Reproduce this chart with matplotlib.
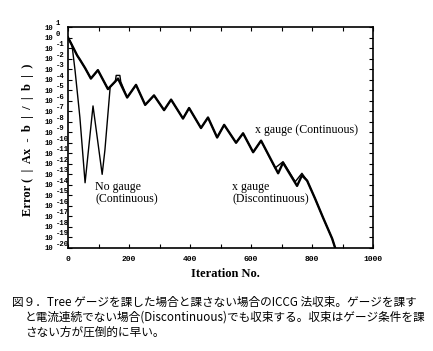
import numpy as np
import matplotlib
matplotlib.use("Agg")
import matplotlib.pyplot as plt
import matplotlib.transforms as mtransforms
from matplotlib.ticker import FixedLocator, NullLocator, NullFormatter

# ---- data (exponents of the error) ----
cont_iter = [0, 16, 30, 39, 56, 75, 98, 131, 164, 194, 223, 253, 282, 315, 338, 377,
             397, 436, 459, 489, 512, 551, 574, 607, 633, 689, 705, 751, 767, 784,
             810, 836, 866, 876]
cont_exp = [0, -0.9, -1.7, -2.1, -2.9, -3.9, -3.1, -4.9, -3.9, -5.7, -4.5, -6.4, -5.5,
            -6.9, -5.9, -7.7, -6.7, -8.6, -7.6, -9.5, -8.3, -10.0, -9.1, -10.9, -9.8,
            -12.9, -11.9, -14.1, -13.1, -13.6, -15.3, -17.1, -19.1, -20.0]

disc_iter = [0, 16, 30, 39, 56, 75, 98, 131, 155, 158, 170, 173, 194, 223, 253, 282,
             315, 338, 377, 397, 436, 459, 489, 512, 551, 574, 607, 633, 679, 705,
             745, 767, 784, 810, 836, 866, 876]
disc_exp = [0, -0.9, -1.7, -2.1, -2.9, -3.9, -3.1, -4.9, -4.2, -3.6, -3.6, -4.2, -5.7,
            -4.5, -6.4, -5.5, -6.9, -5.9, -7.7, -6.7, -8.6, -7.6, -9.5, -8.3, -10.0,
            -9.1, -10.9, -9.8, -12.4, -11.8, -13.7, -12.9, -13.6, -15.3, -17.1, -19.1,
            -20.0]

nogauge_iter = [0, 13, 23, 33, 39, 56, 82, 112, 121, 138]
nogauge_exp = [0, -0.7, -3.1, -5.9, -7.6, -13.8, -6.5, -13.0, -10.7, -4.8]

x_ticks = [0, 200, 400, 600, 800, 1000]
y_exps = list(range(1, -21, -1))

caption = ["図９．Tree ゲージを課した場合と課さない場合のICCG 法収束。ゲージを課す",
           "と電流連続でない場合(Discontinuous)でも収束する。収束はゲージ条件を課",
           "さない方が圧倒的に早い。"]

# ---- figure ----
W, H = 433, 351
fig = plt.figure(figsize=(W / 100, H / 100), dpi=100)
ax = fig.add_axes([68 / W, 1 - 248 / H, 305 / W, 221 / H])

ax.plot(disc_iter, [10.0 ** e for e in disc_exp], color="black", lw=1.0)
ax.plot(cont_iter, [10.0 ** e for e in cont_exp], color="black", lw=1.7)
ax.plot(nogauge_iter, [10.0 ** e for e in nogauge_exp], color="black", lw=1.0)

ax.set_yscale("log")
ax.set_xlim(0, 1000)
ax.set_ylim(1e-20, 1e1)

mono = dict(family="Liberation Mono", weight="bold")
ax.xaxis.set_major_locator(FixedLocator(x_ticks))
ax.xaxis.set_minor_locator(FixedLocator(list(range(100, 1000, 200))))
ax.set_xticklabels([str(v) for v in x_ticks], fontsize=5.8, **mono)

ax.yaxis.set_major_locator(FixedLocator([10.0 ** e for e in y_exps]))
ax.yaxis.set_minor_locator(NullLocator())
ax.yaxis.set_minor_formatter(NullFormatter())
ax.set_yticklabels([])

ax.tick_params(which="both", direction="in", top=True, right=True, length=3, width=0.8)
ax.tick_params(axis="x", pad=6)
for s in ax.spines.values():
    s.set_linewidth(1.2)

# y tick labels drawn as "10" with a raised exponent
base_tr = mtransforms.blended_transform_factory(fig.transFigure, ax.transData)
base_tr_low = mtransforms.offset_copy(base_tr, fig=fig, x=0, y=-1, units="dots")
exp_tr = mtransforms.offset_copy(base_tr, fig=fig, x=0, y=3.5, units="dots")
for e in y_exps:
    ax.text(53 / W, 10.0 ** e, "10", transform=base_tr_low, ha="right", va="center",
            fontsize=5.2, clip_on=False, **mono)
    ax.text(55.5 / W, 10.0 ** e, str(e), transform=exp_tr, ha="left", va="center",
            fontsize=5.2, clip_on=False, **mono)

serif = "Liberation Serif"
fig.text(225 / W, 1 - 274 / H, "Iteration No.", family=serif, weight="bold",
         fontsize=9, ha="center", va="center")
fig.text(28 / W, 1 - 140 / H, "Error (  |  Ax  -  b  |  /  |  b  |  )", family=serif,
         weight="bold", fontsize=9, rotation=90, ha="center", va="center")

ax.text(89, 10 ** -14.8, "No gauge\n(Continuous)", family=serif, fontsize=8.6,
        va="center", ha="left", linespacing=1.0)
ax.text(538, 10 ** -14.8, "x gauge\n(Discontinuous)", family=serif, fontsize=8.6,
        va="center", ha="left", linespacing=1.0)
ax.text(613, 10 ** -8.8, "x gauge (Continuous)", family=serif, fontsize=8.6,
        va="center", ha="left")

cjk = ["Noto Sans CJK JP", "DejaVu Sans"]
fig.text(12 / W, 1 - 302 / H, caption[0], family=cjk, fontsize=8.4, va="center")
fig.text(25 / W, 1 - 317 / H, caption[1], family=cjk, fontsize=8.4, va="center")
fig.text(25 / W, 1 - 332 / H, caption[2], family=cjk, fontsize=8.4, va="center")

fig.savefig("out.png", dpi=100)
